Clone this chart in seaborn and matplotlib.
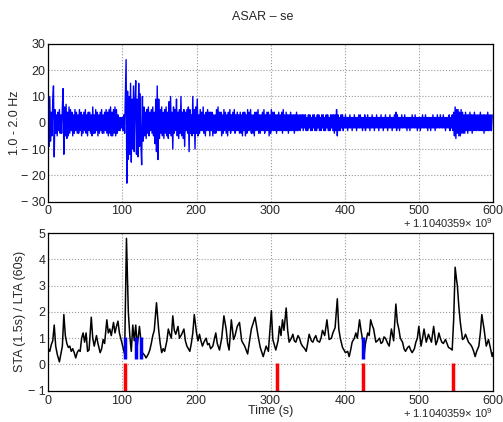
import numpy as np
import pandas as pd
import matplotlib
matplotlib.use("Agg")
import matplotlib.pyplot as plt
import matplotlib.ticker as mticker
import seaborn as sns

# epoch offset of the record start
t0 = 1104035900

# 1.0-2.0 Hz filtered trace, one reading per second (0..599 s)
wave_vals = [
    6, -9, 10, -7, 4, -5, 8, 14, -13, 5, -4, 3, -5, 4, -3, 5, -4, 3, -4, 6,
    13, -12, 6, -5, 7, -6, 4, -5, 6, -4, 5, -3, 4, -5, 3, -4, 5, -3, 4, -4,
    3, -4, 5, -3, 4, -5, 3, -4, 4, -3, 5, -4, 3, -5, 4, -3, 4, -4, 3, -5,
    6, -4, 3, -4, 5, -3, 4, -5, 3, -4, 4, -3, 5, -4, 3, -4, 4, -3, 5, -4,
    4, -5, 5, -4, 6, -5, 4, -5, 5, -4, 6, -5, 5, -4, 3, -3, 2, -3, 2, -2,
    2, -3, 3, -4, 10, 24, -23, 12, -14, 10, -12, 15, -15, 9, -10, 14, -11, 8, 16, -12,
    9, -13, 15, -9, 11, -8, -16, 10, -7, 6, -5, 4, -6, 5, -4, 6, -5, 4, -3, 5,
    -4, 6, -5, 4, -8, 9, -11, 14, -14, 9, -6, 5, -4, 6, -5, 4, -6, 5, -4, 6,
    -5, 4, -6, 8, -4, 10, -5, 4, -10, 6, -4, 5, -3, 9, -5, 4, -6, 5, -4, 10,
    -5, 4, -6, 5, -9, 4, -3, 5, -4, 6, -11, 5, -4, 3, -5, 10, -4, 5, -10, 6,
    -4, 9, -5, 3, -4, 5, -3, 4, -3, 6, -4, 3, -5, 4, -3, 5, -3, 4, -5, 4,
    -3, 4, -5, 3, -4, 3, -4, 5, -3, 6, -3, 4, -3, 4, -5, 3, -4, 5, -3, 4,
    -4, 3, -5, 4, -3, 5, -4, 3, -3, 4, -3, 5, -4, 3, -3, 4, -3, 3, -4, 4,
    -4, 3, -5, 4, -3, 4, -5, 3, -4, 5, -3, 4, -3, 5, -4, 3, -4, 3, -5, 4,
    -3, 4, -3, 5, -4, 3, -4, 3, -3, 4, -3, 5, -4, 3, -3, 4, -3, 4, -5, 3,
    -4, 5, -3, 4, -3, 4, -3, 3, -4, 3, -3, 4, -3, 3, -3, 4, -4, 5, -3, 3,
    -3, 4, -3, 3, -4, 3, -3, 4, -3, 3, -3, 3, -4, 3, -3, 4, -3, 3, -3, 3,
    -3, 3, -2, 3, -3, 3, -2, 3, -3, 2, -3, 3, -2, 3, -3, 2, -3, 3, -2, 3,
    -3, 2, -3, 3, -2, 3, -3, 2, -3, 3, -2, 3, -3, 2, -3, 3, -2, 3, -3, 2,
    -3, 3, -2, 3, -3, 3, -4, 3, -3, 5, -5, 3, -3, 2, -3, 3, -2, 3, -3, 2,
    -2, 3, -2, 2, -3, 2, -2, 3, -2, 2, -3, 2, -2, 3, -2, 2, -3, 2, -2, 3,
    -2, 3, -2, 2, -3, 2, -2, 3, -3, 2, -2, 3, -2, 2, -3, 2, -2, 3, -2, 2,
    -3, 2, -2, 3, -2, 2, -3, 2, -2, 3, -2, 2, -3, 2, -2, 3, -2, 2, -3, 2,
    -2, 3, -2, 2, -3, 2, -2, 3, -2, 4, -3, 3, -2, 2, -3, 2, -2, 3, -2, 2,
    -2, 3, -2, 2, -3, 2, -2, 2, -3, 2, -2, 3, -2, 2, -2, 3, -2, 2, -3, 2,
    -2, 2, -3, 2, -2, 3, -2, 2, -2, 3, -2, 2, -3, 2, -2, 2, -3, 2, -2, 3,
    -2, 2, -3, 2, -2, 3, -2, 2, -2, 3, -2, 2, -2, 3, -2, 2, -3, 2, -2, 2,
    -2, 3, -3, 2, -2, 3, -3, 4, -5, 6, -6, 5, -4, 5, -5, 4, -5, 5, -4, 4,
    -4, 3, -4, 4, -3, 3, -4, 3, -3, 4, -3, 3, -4, 3, -3, 4, -3, 3, -3, 3,
    -3, 3, -3, 4, -3, 3, -3, 3, -4, 3, -3, 3, -3, 4, -3, 3, -3, 3, -3, 3,
]
wave_sec = list(range(len(wave_vals)))

# STA/LTA ratio readings (seconds, ratio)
sta_sec = [
    0, 2, 4, 6, 8, 10, 12, 15, 17, 19, 21, 23, 25, 27, 29, 31, 33, 35, 37, 39,
    41, 43, 45, 47, 49, 51, 53, 55, 58, 60, 62, 65, 67, 70, 72, 74, 76, 79, 81, 83,
    85, 88, 90, 92, 94, 96, 99, 101, 103, 105.5, 108, 110, 112, 114, 116, 118, 120, 123, 125, 127,
    130, 132, 135, 137, 139, 141, 143, 146, 149, 151, 153, 155, 157, 160, 162, 164, 166, 168, 170, 172,
    175, 177, 180, 183, 185, 187, 189, 191, 193, 195, 197, 200, 202, 204, 206, 208, 210, 213, 215, 217,
    219, 222, 224, 226, 228, 231, 234, 237, 240, 242, 244, 247, 250, 252, 255, 258, 261, 265, 269, 274,
    279, 283, 286, 290, 294, 297, 301, 303, 307, 310, 312, 314, 316, 318, 321, 323, 325, 328, 330, 332,
    334, 337, 339, 341, 343, 346, 348, 350, 352, 355, 357, 359, 361, 363, 366, 368, 370, 373, 376, 379,
    382, 384, 387, 390, 392, 394, 397, 399, 401, 404, 406, 408, 410, 413, 415, 417, 420, 422, 424, 426,
    428, 431, 433, 435, 437, 439, 442, 444, 447, 449, 451, 453, 455, 458, 460, 463, 466, 469, 471, 473,
    475, 478, 480, 482, 485, 487, 489, 491, 494, 496, 498, 500, 503, 505, 507, 510, 513, 515, 517, 520,
    523, 525, 527, 529, 531, 533, 536, 538, 540, 543, 545, 547, 549, 551, 552, 554, 556, 559, 561, 563,
    565, 567, 570, 572, 574, 576, 578, 581, 583, 585, 588, 590, 591, 594, 596, 599, 600,
]
sta_ratio = [
    0.6, 0.5, 0.75, 0.9, 1.5, 0.7, 0.4, 0.1, 0.4, 0.7, 1.9, 1.1, 0.8, 0.65, 0.7, 0.5, 0.6, 0.45, 0.25, 0.45,
    0.55, 0.5, 1.0, 1.2, 0.85, 1.2, 0.5, 0.55, 1.8, 1.0, 0.7, 1.1, 0.8, 0.45, 0.6, 0.95, 0.8, 1.7, 1.2, 1.35,
    1.1, 1.6, 1.2, 1.45, 1.65, 1.2, 0.85, 0.6, 0.4, 4.8, 2.0, 1.1, 0.5, 1.5, 0.9, 1.5, 0.7, 1.45, 0.9, 0.45,
    0.35, 0.25, 0.4, 0.55, 0.8, 1.1, 1.3, 2.35, 1.3, 0.8, 0.45, 0.6, 0.5, 0.9, 1.35, 1.15, 1.0, 1.85, 1.3, 1.15,
    1.45, 1.0, 1.15, 1.35, 0.9, 0.7, 0.6, 0.5, 0.8, 1.2, 1.9, 1.2, 0.9, 1.15, 0.9, 0.7, 0.85, 1.0, 0.75, 0.8,
    0.6, 0.7, 0.95, 1.2, 0.8, 0.55, 1.0, 1.85, 1.35, 0.8, 0.55, 1.7, 0.95, 1.1, 1.45, 1.6, 0.9, 0.7, 0.4, 1.35,
    1.8, 1.1, 0.65, 0.3, 0.7, 0.5, 2.05, 0.95, 0.55, 0.9, 1.45, 1.1, 1.7, 1.3, 2.15, 1.3, 0.85, 1.0, 1.15, 0.9,
    0.85, 1.1, 1.0, 0.8, 0.7, 0.6, 0.5, 0.8, 1.15, 0.9, 0.85, 1.0, 1.1, 0.9, 0.85, 1.0, 1.3, 1.1, 1.7, 0.95,
    1.0, 1.2, 1.4, 2.5, 1.35, 1.0, 0.65, 0.55, 0.45, 0.5, 0.3, 0.55, 0.85, 1.0, 1.2, 1.0, 1.7, 1.3, 0.95, 0.3,
    0.8, 1.2, 1.1, 1.7, 1.5, 1.35, 0.85, 0.9, 1.0, 0.8, 0.85, 1.05, 1.0, 0.8, 0.7, 1.35, 0.9, 2.3, 1.6, 1.35,
    1.0, 0.85, 0.6, 0.5, 0.65, 0.7, 0.55, 0.45, 0.6, 0.85, 1.0, 1.45, 0.7, 1.0, 1.35, 0.85, 1.15, 1.0, 0.85, 1.45,
    0.75, 0.9, 1.2, 1.0, 0.85, 0.8, 0.95, 0.8, 0.65, 0.6, 0.55, 1.7, 3.7, 3.2, 3.0, 2.2, 1.6, 0.95, 1.0, 1.15,
    1.0, 0.85, 0.75, 0.65, 0.5, 0.3, 0.5, 0.7, 1.2, 1.9, 1.35, 0.9, 0.7, 0.95, 0.7, 0.3, 0.45,
]

# picks: red = arrivals, blue = triggers
red_picks = [103, 308, 424, 546]
blue_picks = [103, 118, 125, 425]

wave = pd.DataFrame({"time": [t0 + s for s in wave_sec], "amp": wave_vals})
sta = pd.DataFrame({"time": [t0 + s for s in sta_sec], "ratio": sta_ratio})

sns.set_style("whitegrid", {"grid.linestyle": ":", "grid.color": "#9a9a9a",
                            "axes.edgecolor": "black", "xtick.direction": "in",
                            "ytick.direction": "in"})
plt.rcParams["font.family"] = ["Liberation Sans", "DejaVu Sans"]
plt.rcParams["mathtext.default"] = "regular"
plt.rcParams["font.size"] = 9


def minus_fmt(v, _):
    if v < 0:
        return "\u2212 %d" % abs(v)
    return "%d" % v


fig, (ax1, ax2) = plt.subplots(2, 1, figsize=(5.03, 4.22), dpi=100)
fig.subplots_adjust(left=0.096, right=0.98, top=0.896, bottom=0.074, hspace=0.2)

sns.lineplot(data=wave, x="time", y="amp", ax=ax1, color="#0000ff", lw=1.0, estimator=None)
ax1.set_ylim(-30, 30)
ax1.set_ylabel("1.0 - 2.0 Hz", labelpad=0)
ax1.set_xlabel("")

sns.lineplot(data=sta, x="time", y="ratio", ax=ax2, color="black", lw=1.1, estimator=None)
ax2.vlines([t0 + p for p in red_picks], -1, 0.05, colors="#ff0000", lw=2.5)
ax2.vlines([t0 + p for p in blue_picks], 0.2, 1.05, colors="#0000ff", lw=2.5)
ax2.set_ylim(-1, 5)
ax2.set_ylabel("STA (1.5s) / LTA (60s)", labelpad=1)
ax2.set_xlabel("Time (s)", labelpad=-1)

offset_label = "+ 1.1040359\u00d7 10$^{9}$"
for ax, off_y in ((ax1, -0.135), (ax2, -0.14)):
    ax.set_xlim(t0, t0 + 600)
    ax.xaxis.set_major_locator(mticker.MultipleLocator(100))
    fmt = mticker.ScalarFormatter(useOffset=t0, useMathText=True)
    ax.xaxis.set_major_formatter(fmt)
    ax.xaxis.get_offset_text().set_visible(False)
    ax.text(1.0, off_y, offset_label, transform=ax.transAxes, ha="right",
            va="center", fontsize=8)
    ax.yaxis.set_major_formatter(mticker.FuncFormatter(minus_fmt))
    ax.tick_params(length=3, width=0.6, pad=2, labelsize=9, color="black")
    for s in ax.spines.values():
        s.set_color("black")
        s.set_linewidth(0.9)
    ax.grid(True, lw=0.8)

fig.suptitle("ASAR \u2013 se", x=0.523, y=0.975, fontsize=9)
fig.savefig("out.png", dpi=100)
